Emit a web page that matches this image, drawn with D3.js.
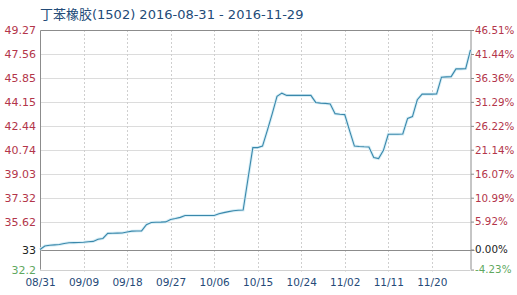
<!DOCTYPE html>
<html>
<head>
<meta charset="utf-8">
<script src="https://cdn.jsdelivr.net/npm/d3@7"></script>
<style>
  body { margin: 0; background: #fff; }
  svg text { font-family: "DejaVu Sans", "Noto Sans CJK SC", sans-serif; }
</style>
</head>
<body>
<svg id="chart" width="517" height="295"></svg>
<script>
var title = "丁苯橡胶(1502) 2016-08-31 - 2016-11-29";

// daily prices, 08/31 .. 11/29
var prices = [
  33.63, 33.88, 33.93, 33.96, 33.99, 34.06, 34.11, 34.12, 34.13, 34.15,
  34.18, 34.21, 34.36, 34.42, 34.78, 34.79, 34.80, 34.81, 34.88, 34.94,
  34.95, 34.96, 35.40, 35.56, 35.57, 35.58, 35.60, 35.77, 35.84, 35.92,
  36.05, 36.05, 36.05, 36.05, 36.05, 36.05, 36.05, 36.18, 36.26, 36.33,
  36.39, 36.43, 36.44, 38.67, 40.89, 40.89, 41.00, 42.12, 43.30, 44.54,
  44.77, 44.61, 44.61, 44.61, 44.61, 44.61, 44.61, 44.11, 44.06, 44.04,
  44.00, 43.31, 43.27, 43.24, 42.10, 41.00, 40.97, 40.95, 40.94, 40.18,
  40.11, 40.70, 41.84, 41.84, 41.84, 41.86, 42.97, 43.10, 44.30, 44.70,
  44.70, 44.70, 44.72, 45.91, 45.93, 45.95, 46.50, 46.50, 46.52, 47.85
];

var xTickIndex = [0, 9, 18, 27, 36, 45, 54, 63, 72, 81];
var xTickLabels = ["08/31","09/09","09/18","09/27","10/06","10/15","10/24","11/02","11/11","11/20"];

var yTicks = [49.27, 47.56, 45.85, 44.15, 42.44, 40.74, 39.03, 37.32, 35.62, 33.63, 32.2];
var yLeftLabels = ["49.27","47.56","45.85","44.15","42.44","40.74","39.03","37.32","35.62","33","32.2"];
var yRightLabels = ["46.51%","41.44%","36.36%","31.29%","26.22%","21.14%","16.07%","10.99%","5.92%","0.00%","-4.23%"];

var basePrice = 33.63;

var margin = {top: 30, right: 46.5, bottom: 25.4, left: 40};
var svg = d3.select("#chart");
var W = +svg.attr("width"), H = +svg.attr("height");
var width = W - margin.left - margin.right,
    height = H - margin.top - margin.bottom;

var x = d3.scaleLinear().domain([0, prices.length - 1]).range([margin.left, margin.left + width]);
var y = d3.scaleLinear().domain([32.2, 49.27]).range([margin.top + height, margin.top]);

function labelColor(v){
  if (v > basePrice) return "#b3354a";
  if (v < basePrice) return "#5fa85f";
  return "#222";
}

// title
svg.append("text")
  .attr("x", 40).attr("y", 19)
  .attr("font-size", 13)
  .attr("fill", "#234b78")
  .text(title);

// horizontal grid
svg.append("g").selectAll("line")
  .data(yTicks.filter(function(d){ return d != basePrice && d != 49.27 && d != 32.2; }))
  .enter().append("line")
  .attr("x1", margin.left).attr("x2", margin.left + width)
  .attr("y1", function(d){ return Math.round(y(d)) + 0.5; })
  .attr("y2", function(d){ return Math.round(y(d)) + 0.5; })
  .attr("stroke", "#dcdcdc");

// vertical grid
svg.append("g").selectAll("line")
  .data(xTickIndex.slice(1))
  .enter().append("line")
  .attr("x1", function(d){ return Math.round(x(d)) + 0.5; })
  .attr("x2", function(d){ return Math.round(x(d)) + 0.5; })
  .attr("y1", margin.top).attr("y2", margin.top + height + 2)
  .attr("stroke", "#cfcfcf")
  .attr("stroke-dasharray", "2,2");

// bottom line
svg.append("line")
  .attr("x1", margin.left).attr("x2", margin.left + width)
  .attr("y1", Math.round(y(32.2)) + 0.5).attr("y2", Math.round(y(32.2)) + 0.5)
  .attr("stroke", "#d0d0d0");

// frame
svg.append("path")
  .attr("d", "M" + (margin.left + 0.5) + "," + (margin.top + height) +
             "V" + (margin.top + 0.5) + "H" + (margin.left + width + 0.5) +
             "V" + (margin.top + height))
  .attr("fill", "none")
  .attr("stroke", "#8c8c8c");

// base line
svg.append("line")
  .attr("x1", margin.left).attr("x2", margin.left + width + 4)
  .attr("y1", Math.round(y(basePrice)) + 0.5).attr("y2", Math.round(y(basePrice)) + 0.5)
  .attr("stroke", "#8c8c8c");

// left axis
var leftAxis = d3.axisLeft(y).tickValues(yTicks).tickSize(0).tickPadding(4)
  .tickFormat(function(d, i){ return yLeftLabels[i]; });
var gl = svg.append("g").attr("transform", "translate(" + margin.left + ",0)").call(leftAxis);
gl.select(".domain").remove();
gl.selectAll("text")
  .attr("font-size", 11)
  .attr("fill", function(d){ return labelColor(d); });

// right axis
var rightAxis = d3.axisRight(y).tickValues(yTicks).tickSize(3).tickPadding(1)
  .tickFormat(function(d, i){ return yRightLabels[i]; });
var gr = svg.append("g").attr("transform", "translate(" + (margin.left + width + 0.5) + ",0)").call(rightAxis);
gr.select(".domain").remove();
gr.selectAll("line").attr("stroke", "#8c8c8c");
gr.selectAll("text")
  .attr("font-size", 10.3)
  .attr("fill", function(d){ return labelColor(d); });

// bottom axis
var bottomAxis = d3.axisBottom(x).tickValues(xTickIndex).tickSize(0).tickPadding(9)
  .tickFormat(function(d, i){ return xTickLabels[i]; });
var gb = svg.append("g").attr("transform", "translate(0," + (margin.top + height) + ")").call(bottomAxis);
gb.select(".domain").remove();
gb.selectAll("text")
  .attr("font-size", 10.5)
  .attr("fill", "#264a78");

// price line
var line = d3.line()
  .x(function(d, i){ return x(i); })
  .y(function(d){ return y(d); });

svg.append("path")
  .datum(prices)
  .attr("d", line)
  .attr("fill", "none")
  .attr("stroke", "#d8eef6")
  .attr("stroke-width", 3);

svg.append("path")
  .datum(prices)
  .attr("d", line)
  .attr("fill", "none")
  .attr("stroke", "#3a88ab")
  .attr("stroke-width", 1.1);
</script>
</body>
</html>
